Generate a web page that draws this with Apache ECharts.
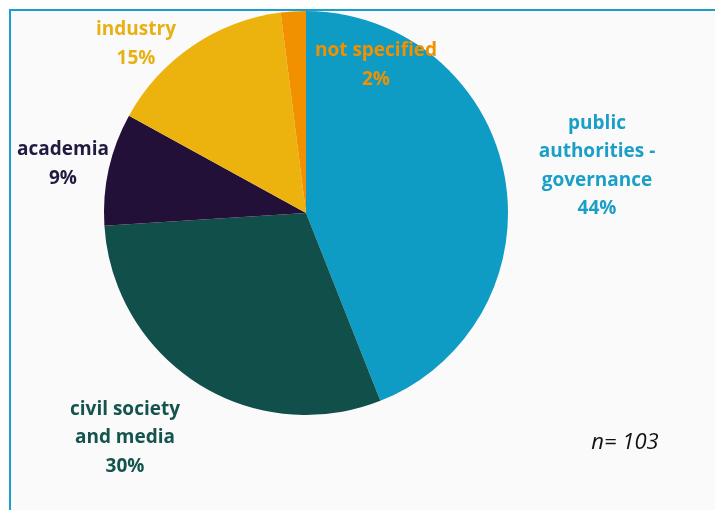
<!DOCTYPE html>
<html><head><meta charset="utf-8">
<script src="https://cdn.jsdelivr.net/npm/echarts@6/dist/echarts.min.js"></script>
<style>html,body{margin:0;padding:0;background:#fff}#c{width:715px;height:510px}</style>
</head><body><div id="c"></div>
<script>
var categories = ['public\nauthorities -\ngovernance', 'civil society\nand media', 'academia', 'industry', 'not specified'];
var values = [44, 30, 9, 15, 2];
var colors = ['#0e9bc4', '#114f4a', '#221038', '#ecb30f', '#f29100'];
var labelColors = ['#1a9fc7', '#14544e', '#231a40', '#e8b014', '#f29100'];
var sampleNote = 'n= 103';

var labelPos = [[597, 166], [125, 438], [63, 164], [136, 44], [376, 65]];

var chart = echarts.init(document.getElementById('c'), null, {renderer: 'canvas'});
chart.setOption({
  backgroundColor: '#ffffff',
  animation: false,
  graphic: [
    {type: 'rect', shape: {x: 10, y: 10, width: 720, height: 520}, style: {fill: '#fafafa', stroke: '#1aa0c8', lineWidth: 2}, z: -10},
    {type: 'text', x: 625, y: 443, style: {text: sampleNote, font: 'italic 22px "Open Sans"', fill: '#111', align: 'center', verticalAlign: 'middle'}}
  ],
  series: [{
    type: 'pie',
    center: [306, 213],
    radius: 202,
    startAngle: 90,
    clockwise: true,
    labelLine: {show: false},
    data: categories.map(function (c, i) {
      return {name: c, value: values[i], itemStyle: {color: colors[i]},
        label: {color: labelColors[i]}};
    }),
    label: {
      show: true,
      position: 'outside',
      edgeDistance: 0,
      overflow: 'none',
      formatter: function (p) { return p.name + '\n' + p.value + '%'; },
      fontFamily: 'Open Sans',
      fontWeight: 'bold',
      fontSize: 19,
      lineHeight: 28.5,
      align: 'center'
    },
    labelLayout: function (p) {
      var pos = labelPos[p.dataIndex];
      return {x: pos[0], y: pos[1], align: 'center', verticalAlign: 'middle', hideOverlap: false, moveOverlap: false};
    }
  }]
});
</script></body></html>
